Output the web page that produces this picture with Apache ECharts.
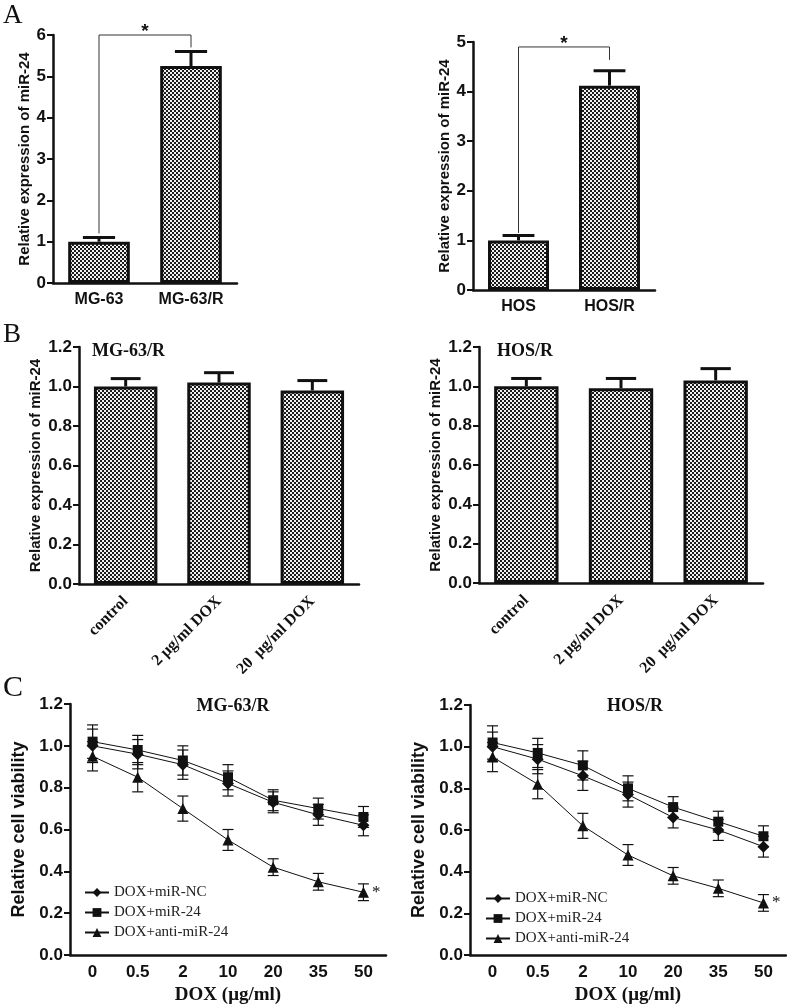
<!DOCTYPE html>
<html><head><meta charset="utf-8">
<script src="https://cdn.jsdelivr.net/npm/echarts@6/dist/echarts.min.js"></script>
<style>html,body{margin:0;padding:0;background:#fff}#c{width:787px;height:1006px}</style>
</head><body><div id="c"></div>
<script>
// ---------- data ----------
const aLeftCats = ['MG-63', 'MG-63/R'];
const aLeftVals = [1.0, 5.25];
const aLeftErr = [0.1, 0.35];
const aLeftBracket = [1.2, 6.0, 5.7];   // left foot, top, right foot
const aRightCats = ['HOS', 'HOS/R'];
const aRightVals = [1.0, 4.12];
const aRightErr = [0.1, 0.3];
const aRightBracket = [1.15, 4.9, 4.64];

const bCats = ['control', '2 μg/ml DOX', '20  μg/ml DOX'];
const bLeftVals = [1.0, 1.02, 0.98];
const bLeftErr = [0.04, 0.05, 0.05];
const bRightVals = [1.0, 0.99, 1.03];
const bRightErr = [0.04, 0.05, 0.06];

const doseCats = ['0', '0.5', '2', '10', '20', '35', '50'];
const seriesNames = ['DOX+miR-NC', 'DOX+miR-24', 'DOX+anti-miR-24'];
const cLeftNC = [1.00, 0.96, 0.91, 0.82, 0.73, 0.67, 0.62];
const cLeftNCErr = [0.08, 0.07, 0.07, 0.06, 0.05, 0.05, 0.05];
const cLeft24 = [1.02, 0.98, 0.93, 0.85, 0.74, 0.70, 0.66];
const cLeft24Err = [0.08, 0.07, 0.07, 0.06, 0.05, 0.05, 0.05];
const cLeftAnti = [0.95, 0.85, 0.70, 0.55, 0.42, 0.35, 0.30];
const cLeftAntiErr = [0.07, 0.07, 0.06, 0.05, 0.04, 0.04, 0.04];
const cRightNC = [1.00, 0.94, 0.86, 0.77, 0.66, 0.60, 0.52];
const cRightNCErr = [0.07, 0.07, 0.07, 0.06, 0.05, 0.05, 0.05];
const cRight24 = [1.02, 0.97, 0.91, 0.80, 0.71, 0.64, 0.57];
const cRight24Err = [0.08, 0.07, 0.07, 0.06, 0.05, 0.05, 0.05];
const cRightAnti = [0.95, 0.82, 0.62, 0.48, 0.38, 0.32, 0.25];
const cRightAntiErr = [0.07, 0.07, 0.06, 0.05, 0.04, 0.04, 0.04];

// ---------- styling helpers ----------
const SANS = '"Liberation Sans", Arial, sans-serif';
const SERIF = '"Liberation Serif", "Times New Roman", serif';
const INK = '#111';

function makePattern() {
  const c = document.createElement('canvas'); c.width = 4; c.height = 4;
  const g = c.getContext('2d');
  g.fillStyle = '#f0f0f0'; g.fillRect(0, 0, 4, 4);
  g.fillStyle = '#1c1c1c'; g.fillRect(0, 0, 2, 2); g.fillRect(2, 2, 2, 2);
  return c;
}
const pattern = { image: makePattern(), repeat: 'repeat' };

const grids = [
  { left: 53, top: 35, width: 184, height: 248 },
  { left: 473, top: 42, width: 182, height: 248 },
  { left: 79, top: 347, width: 280, height: 237 },
  { left: 479, top: 347, width: 284, height: 236 },
  { left: 70, top: 704, width: 316, height: 253 },
  { left: 470, top: 705, width: 316, height: 252 }
];

function xAx(i, cats, opts) {
  return Object.assign({
    type: 'category', gridIndex: i, data: cats,
    axisLine: { lineStyle: { color: INK, width: 2.5 } },
    axisTick: { alignWithLabel: true, length: 6, lineStyle: { color: INK, width: 2 } },
    axisLabel: { color: INK, fontFamily: SANS, fontWeight: 'bold', fontSize: 16, margin: 9 },
    splitLine: { show: false }
  }, opts || {});
}
function yAx(i, max, interval, name, nameGap, fontSize, nameSize, fmt) {
  return {
    type: 'value', gridIndex: i, min: 0, max: max, interval: interval,
    name: name, nameLocation: 'middle', nameGap: nameGap,
    nameTextStyle: { color: INK, fontFamily: SANS, fontWeight: 'bold', fontSize: nameSize },
    axisLine: { show: true, lineStyle: { color: INK, width: 2.5 } },
    axisTick: { show: true, length: 6, lineStyle: { color: INK, width: 2 } },
    axisLabel: { color: INK, fontFamily: SANS, fontWeight: 'bold', fontSize: fontSize, margin: 7, formatter: fmt },
    splitLine: { show: false }
  };
}

function barErrRender(capFrac) {
  return function (params, api) {
    const x = api.value(0), v = api.value(1), e = api.value(2);
    const p0 = api.coord([x, v]), p1 = api.coord([x, v + e]);
    const cap = api.size([1, 0])[0] * capFrac;
    return { type: 'group', children: [
      { type: 'line', shape: { x1: p0[0], y1: p0[1], x2: p1[0], y2: p1[1] }, style: { stroke: INK, lineWidth: 3 } },
      { type: 'line', shape: { x1: p1[0] - cap / 2, y1: p1[1], x2: p1[0] + cap / 2, y2: p1[1] }, style: { stroke: INK, lineWidth: 3 } }
    ] };
  };
}
function lineErrRender(params, api) {
  const x = api.value(0), v = api.value(1), e = api.value(2);
  const pT = api.coord([x, v + e]), pB = api.coord([x, v - e]);
  const cap = 11;
  const st = { stroke: INK, lineWidth: 1.2 };
  return { type: 'group', children: [
    { type: 'line', shape: { x1: pT[0], y1: pT[1], x2: pB[0], y2: pB[1] }, style: st },
    { type: 'line', shape: { x1: pT[0] - cap / 2, y1: pT[1], x2: pT[0] + cap / 2, y2: pT[1] }, style: st },
    { type: 'line', shape: { x1: pB[0] - cap / 2, y1: pB[1], x2: pB[0] + cap / 2, y2: pB[1] }, style: st }
  ] };
}
function bracketRender(params, api) {
  const a = api.value(0), b = api.value(1);
  const pL = api.coord([a, api.value(2)]);
  const pLT = api.coord([a, api.value(3)]);
  const pRT = api.coord([b, api.value(3)]);
  const pR = api.coord([b, api.value(4)]);
  return { type: 'group', children: [
    { type: 'polyline', shape: { points: [pL, pLT, pRT, pR] }, style: { stroke: '#333', lineWidth: 1, fill: null } },
    { type: 'text', style: { text: '*', x: (pLT[0] + pRT[0]) / 2, y: pLT[1] - 3, align: 'center', verticalAlign: 'middle',
      font: 'bold 19px ' + SANS, fill: INK } }
  ] };
}

function barSeries(i, vals, width) {
  return { type: 'bar', xAxisIndex: i, yAxisIndex: i, data: vals, barWidth: width, z: 2,
    itemStyle: { color: pattern, borderColor: INK, borderWidth: 3 } };
}
function barErrSeries(i, vals, errs, capFrac) {
  return { type: 'custom', xAxisIndex: i, yAxisIndex: i, z: 3, renderItem: barErrRender(capFrac),
    encode: { x: 0, y: [1, 2] }, data: vals.map((v, k) => [k, v, errs[k]]) };
}
function bracketSeries(i, br) {
  return { type: 'custom', xAxisIndex: i, yAxisIndex: i, z: 4, renderItem: bracketRender,
    encode: { x: [0, 1], y: [2, 3, 4] }, data: [[0, 1, br[0], br[1], br[2]]] };
}
const symbols = ['diamond', 'rect', 'triangle'];
const symSizes = [12, 10, 11];
function lineSeries(i, k, vals, star) {
  const data = vals.map((v, j) => (star && j === vals.length - 1)
    ? { value: v, label: { show: true, formatter: '*', position: 'right', distance: 3, color: INK,
        fontFamily: SERIF, fontSize: 17 } }
    : v);
  return { type: 'line', name: seriesNames[k], xAxisIndex: i, yAxisIndex: i, data: data,
    symbol: symbols[k], symbolSize: symSizes[k], z: 5,
    lineStyle: { color: INK, width: 1 }, itemStyle: { color: INK } };
}
function lineErrSeries(i, vals, errs) {
  return { type: 'custom', xAxisIndex: i, yAxisIndex: i, z: 4, renderItem: lineErrRender,
    encode: { x: 0, y: [1, 2] }, data: vals.map((v, k) => [k, v, errs[k]]) };
}

const fmt1 = v => v.toFixed(1);
const bXLabel = { color: INK, fontFamily: SERIF, fontWeight: 'bold', fontSize: 16, rotate: 45, margin: 15 };
const legendCommon = {
  orient: 'vertical', data: seriesNames, itemWidth: 24, itemHeight: 11, itemGap: 5, padding: 0,
  textStyle: { color: '#222', fontFamily: SERIF, fontSize: 15 }, selectedMode: false
};
const titleStyle = (size, weight) => ({ color: INK, fontFamily: SERIF, fontWeight: weight, fontSize: size });

const option = {
  animation: false,
  backgroundColor: '#fff',
  title: [
    { text: 'A', left: 3, top: 2, padding: 0, textStyle: titleStyle(27, 'normal') },
    { text: 'B', left: 3, top: 321, padding: 0, textStyle: titleStyle(27, 'normal') },
    { text: 'C', left: 3, top: 673, padding: 0, textStyle: titleStyle(30, 'normal') },
    { text: 'MG-63/R', left: 92, top: 342, padding: 0, textStyle: titleStyle(18, 'bold') },
    { text: 'HOS/R', left: 497, top: 342, padding: 0, textStyle: titleStyle(18, 'bold') },
    { text: 'MG-63/R', left: 233, textAlign: 'center', top: 697, padding: 0, textStyle: titleStyle(18, 'bold') },
    { text: 'HOS/R', left: 635, textAlign: 'center', top: 697, padding: 0, textStyle: titleStyle(18, 'bold') }
  ],
  legend: [
    Object.assign({ left: 84, top: 885 }, legendCommon),
    Object.assign({ left: 485, top: 891 }, legendCommon)
  ],
  grid: grids,
  xAxis: [
    xAx(0, aLeftCats),
    xAx(1, aRightCats),
    xAx(2, bCats, { axisLabel: bXLabel }),
    xAx(3, bCats, { axisLabel: bXLabel }),
    xAx(4, doseCats, { name: 'DOX (μg/ml)', nameLocation: 'middle', nameGap: 31,
      nameTextStyle: { color: INK, fontFamily: SERIF, fontWeight: 'bold', fontSize: 19 },
      axisLabel: { color: INK, fontFamily: SANS, fontWeight: 'bold', fontSize: 17, margin: 9 } }),
    xAx(5, doseCats, { name: 'DOX (μg/ml)', nameLocation: 'middle', nameGap: 31,
      nameTextStyle: { color: INK, fontFamily: SERIF, fontWeight: 'bold', fontSize: 19 },
      axisLabel: { color: INK, fontFamily: SANS, fontWeight: 'bold', fontSize: 17, margin: 9 } })
  ],
  yAxis: [
    yAx(0, 6, 1, 'Relative expression of miR-24', 20, 17, 15, v => String(v)),
    yAx(1, 5, 1, 'Relative expression of miR-24', 20, 17, 15, v => String(v)),
    yAx(2, 1.2, 0.2, 'Relative expression of miR-24', 36, 17, 15, fmt1),
    yAx(3, 1.2, 0.2, 'Relative expression of miR-24', 36, 17, 15, fmt1),
    yAx(4, 1.2, 0.2, 'Relative cell viability', 42, 17, 18, fmt1),
    yAx(5, 1.2, 0.2, 'Relative cell viability', 42, 17, 18, fmt1)
  ],
  series: [
    barSeries(0, aLeftVals, '67%'), barErrSeries(0, aLeftVals, aLeftErr, 0.35), bracketSeries(0, aLeftBracket),
    barSeries(1, aRightVals, '67%'), barErrSeries(1, aRightVals, aRightErr, 0.35), bracketSeries(1, aRightBracket),
    barSeries(2, bLeftVals, '68%'), barErrSeries(2, bLeftVals, bLeftErr, 0.32),
    barSeries(3, bRightVals, '68%'), barErrSeries(3, bRightVals, bRightErr, 0.32),
    lineErrSeries(4, cLeftNC, cLeftNCErr), lineErrSeries(4, cLeft24, cLeft24Err), lineErrSeries(4, cLeftAnti, cLeftAntiErr),
    lineSeries(4, 0, cLeftNC), lineSeries(4, 1, cLeft24), lineSeries(4, 2, cLeftAnti, true),
    lineErrSeries(5, cRightNC, cRightNCErr), lineErrSeries(5, cRight24, cRight24Err), lineErrSeries(5, cRightAnti, cRightAntiErr),
    lineSeries(5, 0, cRightNC), lineSeries(5, 1, cRight24), lineSeries(5, 2, cRightAnti, true)
  ]
};

const chart = echarts.init(document.getElementById('c'), null, { renderer: 'canvas' });
chart.setOption(option);
</script>
</body></html>
